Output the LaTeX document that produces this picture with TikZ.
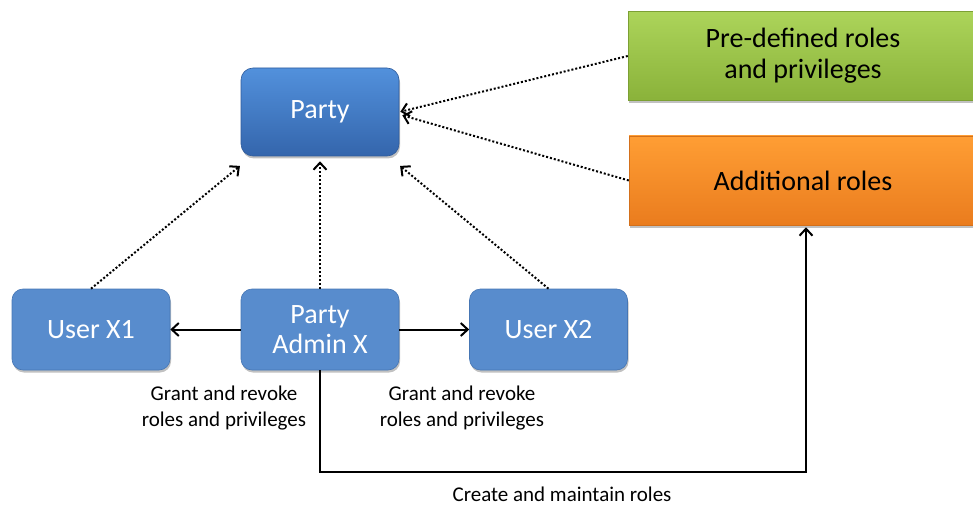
\documentclass[tikz,border=0pt]{standalone}
\usepackage{fontspec}
\setmainfont{Carlito}
\usetikzlibrary{arrows.meta,shadows}
\definecolor{ptop}{RGB}{82,145,220}
\definecolor{pbot}{RGB}{52,101,172}
\definecolor{ubox}{RGB}{88,140,205}
\definecolor{uedge}{RGB}{70,118,180}
\definecolor{gtop}{RGB}{172,212,90}
\definecolor{gbot}{RGB}{138,178,58}
\definecolor{otop}{RGB}{255,158,52}
\definecolor{obot}{RGB}{234,124,30}
\tikzset{
  boxshadow/.style={drop shadow={shadow xshift=1pt,shadow yshift=-2.5pt,opacity=0.35,fill=black!70}},
  partybox/.style={rounded corners=12pt,minimum width=158pt,minimum height=88pt,
    top color=ptop,bottom color=pbot,draw=pbot!90!black,line width=0.6pt,text=white,
    font=\fontsize{28}{31}\selectfont,boxshadow},
  userbox/.style={rounded corners=11pt,minimum width=158pt,minimum height=81pt,
    fill=ubox,draw=uedge,line width=0.6pt,text=white,align=center,
    font=\fontsize{28}{30}\selectfont,boxshadow},
  greenbox/.style={minimum width=350pt,minimum height=89pt,top color=gtop,bottom color=gbot,
    draw=gbot!90!black,line width=0.5pt,align=center,font=\fontsize{28}{31}\selectfont,boxshadow},
  orangebox/.style={minimum width=348pt,minimum height=89pt,top color=otop,bottom color=obot,
    draw=obot!90!black,line width=0.5pt,align=center,font=\fontsize{28}{31}\selectfont,boxshadow},
  dotarrow/.style={line width=2pt,dotted,-{Straight Barb[length=7pt,width=13pt,line width=2pt]},shorten >=1pt},
  solarrow/.style={line width=2pt,-{Straight Barb[length=7pt,width=13pt,line width=2pt]}},
  lbl/.style={align=center,font=\fontsize{21}{26}\selectfont}
}
\begin{document}
\begin{tikzpicture}[x=1pt,y=-1pt]
\useasboundingbox (0,0) rectangle (973,505);
\begin{scope}
\clip (0,0) rectangle (973,505);
\node[greenbox] (green) at (803,56) {Pre-defined roles\\and privileges};
\node[orangebox] (orange) at (803,180.5) {Additional roles};
\end{scope}
\node[partybox] (party) at (320,112) {Party};
\node[userbox] (ux1) at (91,329.5) {User X1};
\node[userbox] (pa) at (320,329.5) {Party\\Admin X};
\node[userbox] (ux2) at (548.5,329.5) {User X2};

\draw[dotarrow] (ux1.north) -- ([yshift=-9pt]party.south west);
\draw[dotarrow] (pa.north) -- ([yshift=-4pt]party.south);
\draw[dotarrow] (ux2.north) -- ([yshift=-9pt]party.south east);
\draw[dotarrow] (green.west) -- (party.east);
\draw[dotarrow] (orange.west) -- ([xshift=2pt,yshift=-3pt]party.east);

\draw[solarrow] (pa.west) -- (ux1.east);
\draw[solarrow] (pa.east) -- (ux2.west);
\coordinate (bend) at (320,472);
\draw[solarrow] (pa.south) -- (bend) -| ([xshift=3pt,yshift=-2pt]orange.south);

\node[lbl] (l1) at (224,408) {Grant and revoke\\roles and privileges};
\node[lbl] (l2) at (462,408) {Grant and revoke\\roles and privileges};
\node[lbl] (l3) at (562,494) {Create and maintain roles};
\end{tikzpicture}
\end{document}
